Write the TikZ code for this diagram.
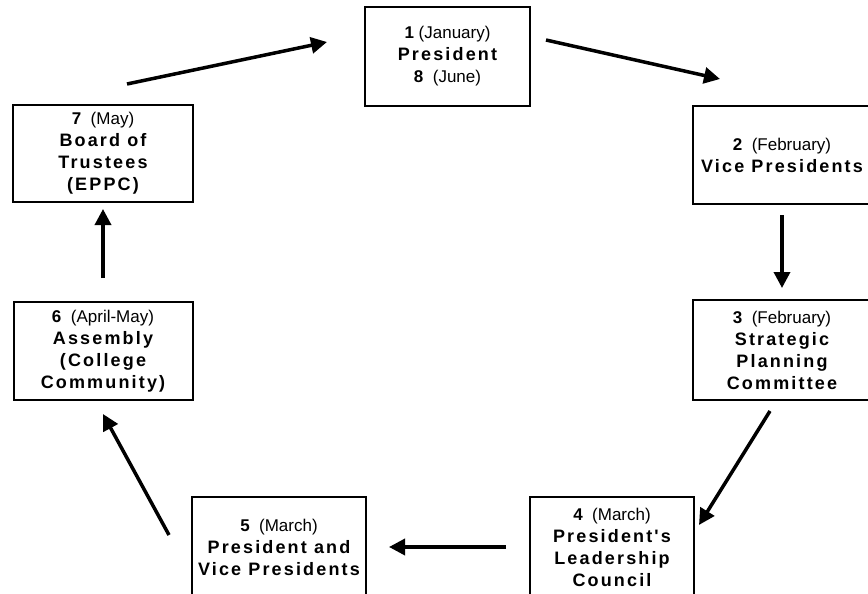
\documentclass[tikz,border=0pt]{standalone}
\usepackage{fontspec}
\setmainfont{Liberation Sans}
\newfontfamily\spacedfont[LetterSpace=12]{Liberation Sans}
\usetikzlibrary{arrows.meta}
\usetikzlibrary{calc}
\newcommand{\who}[1]{{\spacedfont\bfseries\fontsize{18}{22}\selectfont #1}}
\tikzset{
  box/.style={
    draw, line width=2pt,
    align=center, inner sep=0,
    font=\fontsize{17}{22}\selectfont
  },
  flow/.style={-{Triangle[length=16pt,width=16pt]}, line width=3.5pt}
}

\begin{document}
\begin{tikzpicture}[x=1pt,y=-1pt]
  \useasboundingbox (0,0) rectangle (868,594);
  % boxes, clockwise from the top
  \node[box, minimum width=165pt, minimum height=99pt] (pres) at (447.5,56.5)
    {\textbf{1} (January)\\ \who{President}\\ \textbf{8}\ \ (June)};
  \node[box, minimum width=178pt, minimum height=98pt] (vps) at (782,155)
    {\textbf{2}\ \ (February)\\ \who{Vice Presidents}};
  \node[box, minimum width=178pt, minimum height=100pt] (spc) at (782,350)
    {\textbf{3}\ \ (February)\\ \who{Strategic}\\ \who{Planning}\\ \who{Committee}};
  \node[box, minimum width=164pt, minimum height=100pt] (plc) at (612,547)
    {\textbf{4}\ \ (March)\\ \who{President's}\\ \who{Leadership}\\ \who{Council}};
  \node[box, minimum width=174pt, minimum height=100pt] (pvp) at (279,547)
    {\textbf{5}\ \ (March)\\ \who{President and}\\ \who{Vice Presidents}};
  \node[box, minimum width=179pt, minimum height=98pt] (assembly) at (103,351)
    {\textbf{6}\ \ (April-May)\\ \who{Assembly}\\ \who{(College}\\ \who{Community)}};
  \node[box, minimum width=180pt, minimum height=97pt] (board) at (103,153.5)
    {\textbf{7}\ \ (May)\\ \who{Board of}\\ \who{Trustees}\\ \who{(EPPC)}};

  % the cycle
  \draw[flow] ($(board.north)+(24,-20)$) -- ($(pres.west)+(-37,-14.5)$);
  \draw[flow] ($(pres.east)+(15,-16.5)$) -- ($(vps.north)+(-62,-26)$);
  \draw[flow, shorten <=10pt, shorten >=11pt] (vps.south) -- (spc.north);
  \draw[flow] ($(spc.south)+(-12,10)$) -- ($(plc.east)+(4,-22)$);
  \draw[flow, shorten <=23pt, shorten >=22pt] (plc.west) -- (pvp.east);
  \draw[flow] ($(pvp.west)+(-22,-12)$) -- ($(assembly.south)+(0,13)$);
  \draw[flow, shorten <=23pt, shorten >=6pt] (assembly.north) -- (board.south);
\end{tikzpicture}
\end{document}
